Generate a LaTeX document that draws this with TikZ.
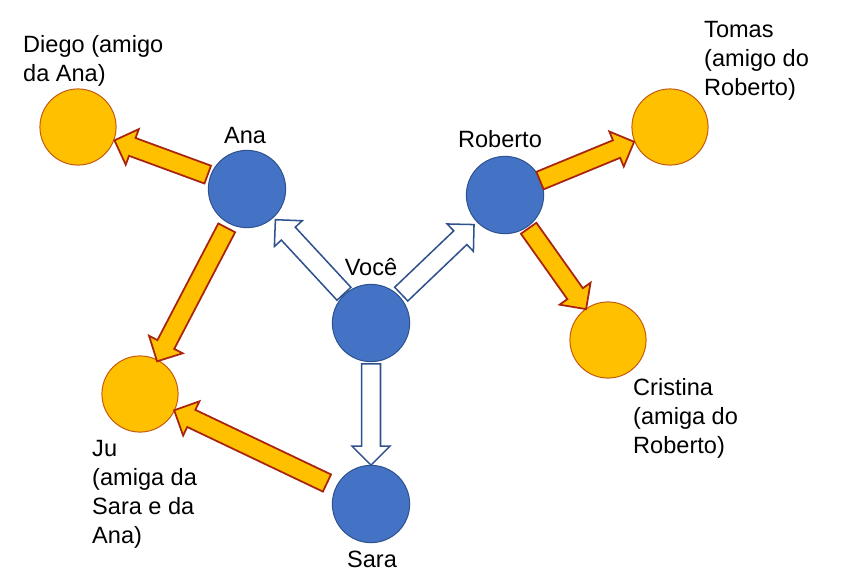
\documentclass[tikz,border=0pt]{standalone}
\usepackage{fontspec}
\setmainfont{Liberation Sans}
\usetikzlibrary{calc}
\definecolor{pblue}{HTML}{4472C4}
\definecolor{pblueline}{HTML}{2F528F}
\definecolor{porange}{HTML}{FFC000}
\definecolor{porangeline}{HTML}{C55A11}
\definecolor{parrowline}{HTML}{A8240E}
\begin{document}
\begin{tikzpicture}
          [x=0.03cm,y=-0.03cm,
           person/.style={draw=pblueline, fill=pblue, circle, line width=0.85pt, inner sep=0pt, minimum size=66pt},
           friend/.style={draw=porangeline, fill=porange, circle, line width=0.85pt, inner sep=0pt, minimum size=65pt},
           nametext/.style={font=\fontsize{20.1}{24.7}\selectfont, inner sep=0pt, align=left},
           orangearrow/.style={draw=parrowline, fill=porange, line width=1.5pt, line join=miter},
           whitearrow/.style={draw=pblueline, fill=white, line width=1.3pt, line join=miter}]
        \useasboundingbox (0,0) rectangle (858,585);

        \node[person] (voce) at (371,323) {};
        \node[person] (ana) at (247,189) {};
        \node[person] (roberto) at (505,195) {};
        \node[person] (sara) at (371,504) {};
        \node[friend] (diego) at (78,127) {};
        \node[friend] (tomas) at (670,127) {};
        \node[friend] (ju) at (140,394) {};
        \node[friend] (cristina) at (608,340) {};

        % multi-line texts: placed at the baseline of their last line
        \node[nametext, anchor=base] (tvoce) at (371,275) {Você};
        \node[nametext, anchor=base] (tana) at (245,143) {Ana};
        \node[nametext, anchor=base] (troberto) at (500,147) {Roberto};
        \node[nametext, anchor=base] (tsara) at (372,567) {Sara};
        \node[nametext, anchor=base west] (tdiego) at (23,81) {Diego (amigo\\da Ana)};
        \node[nametext, anchor=base west] (ttomas) at (704,95) {Tomas\\(amigo do\\Roberto)};
        \node[nametext, anchor=base west] (tju) at (92,543) {Ju\\(amiga da\\Sara e da\\Ana)};
        \node[nametext, anchor=base west] (tcristina) at (633,453) {Cristina\\(amiga do\\Roberto)};

        \foreach \from/\to/\sg/\eg/\kind in {voce/ana/40/42/whitearrow, voce/roberto/42/43/whitearrow, voce/sara/41/39/whitearrow,
            ana/diego/42/39/orangearrow, ana/ju/44/37/orangearrow, sara/ju/49/38/orangearrow,
            roberto/tomas/38/39/orangearrow, roberto/cristina/41/38/orangearrow}
          {
          \coordinate (t) at ($(\from)!\sg*0.85pt!(\to)$);
          \coordinate (p) at ($(\to)!\eg*0.85pt!(\from)$);
          \coordinate (b) at ($(p)!16.2pt!(t)$);
          \draw[\kind] ($(t)!8.1pt!90:(p)$) -- ($(b)!8.1pt!90:(p)$) -- ($(b)!16.2pt!90:(p)$) -- (p)
            -- ($(b)!16.2pt!-90:(p)$) -- ($(b)!8.1pt!-90:(p)$) -- ($(t)!8.1pt!-90:(p)$) -- cycle;
          }
      \end{tikzpicture}
\end{document}
